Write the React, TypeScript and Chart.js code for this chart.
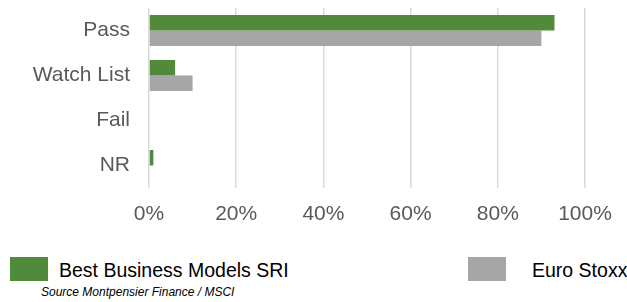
import React, { useEffect, useRef } from "react";
import { Chart, registerables } from "chart.js";

Chart.register(...registerables);

const categories = ["Pass", "Watch List", "Fail", "NR"];
const seriesNames = ["Best Business Models SRI", "Euro Stoxx"];
const bbmValues = [93, 6, 0, 1];
const stoxxValues = [90, 10, 0, 0];
const xTicks = [0, 20, 40, 60, 80, 100];
const sourceText = "Source Montpensier Finance / MSCI";

const GREEN = "#518a3b";
const GRAY = "#a6a6a6";
const FONT = "'Liberation Sans', Arial, sans-serif";

export default function App() {
  const canvasRef = useRef<HTMLCanvasElement | null>(null);

  useEffect(() => {
    if (!canvasRef.current) return;
    const chart = new Chart(canvasRef.current, {
      type: "bar",
      data: {
        labels: categories,
        datasets: [
          {
            label: seriesNames[0],
            data: bbmValues,
            backgroundColor: GREEN,
            categoryPercentage: 0.69,
            barPercentage: 1,
          },
          {
            label: seriesNames[1],
            data: stoxxValues,
            backgroundColor: GRAY,
            categoryPercentage: 0.69,
            barPercentage: 1,
          },
        ],
      },
      options: {
        indexAxis: "y",
        animation: false,
        responsive: false,
        maintainAspectRatio: false,
        layout: { padding: { left: 0, right: 42, top: 8, bottom: 0 } },
        plugins: {
          legend: { display: false },
          tooltip: { enabled: false },
        },
        scales: {
          x: {
            min: 0,
            max: 100,
            afterBuildTicks: (scale: any) => {
              scale.ticks = xTicks.map((v) => ({ value: v }));
            },
            afterFit: (scale: any) => {
              scale.height = 52;
            },
            grid: { color: "#d9d9d9", lineWidth: 1.5, drawTicks: false },
            border: { display: false },
            ticks: {
              padding: 14,
              color: "#595959",
              font: { family: FONT, size: 21 },
              callback: (v: any) => v + "%",
            },
          },
          y: {
            afterFit: (scale: any) => {
              scale.width = 149;
              scale.paddingTop = 0;
              scale.paddingBottom = 0;
            },
            grid: { display: false, drawTicks: false },
            border: { display: false },
            ticks: {
              padding: 19,
              color: "#595959",
              font: { family: FONT, size: 21 },
            },
          },
        },
      },
    });
    return () => chart.destroy();
  }, []);

  const legendText: React.CSSProperties = {
    position: "absolute",
    top: 258,
    height: 24,
    lineHeight: "24px",
    fontFamily: FONT,
    fontSize: 19.5,
    color: "#000",
    whiteSpace: "nowrap",
  };

  return (
    <div
      style={{
        position: "fixed",
        left: 0,
        top: 0,
        width: 627,
        height: 302,
        background: "#fff",
        overflow: "hidden",
      }}
    >
      <canvas
        ref={canvasRef}
        width={627}
        height={240}
        style={{ position: "absolute", left: 0, top: 0, width: 627, height: 240 }}
      />
      <div style={{ position: "absolute", left: 10, top: 257, width: 38, height: 24, background: GREEN }} />
      <div style={{ ...legendText, left: 59 }}>{seriesNames[0]}</div>
      <div style={{ position: "absolute", left: 468, top: 257, width: 38, height: 24, background: GRAY }} />
      <div style={{ ...legendText, left: 532 }}>{seriesNames[1]}</div>
      <div
        style={{
          position: "absolute",
          left: 41,
          top: 285,
          height: 14,
          lineHeight: "14px",
          fontFamily: FONT,
          fontSize: 12,
          fontStyle: "italic",
          color: "#000",
          whiteSpace: "nowrap",
        }}
      >
        {sourceText}
      </div>
    </div>
  );
}
